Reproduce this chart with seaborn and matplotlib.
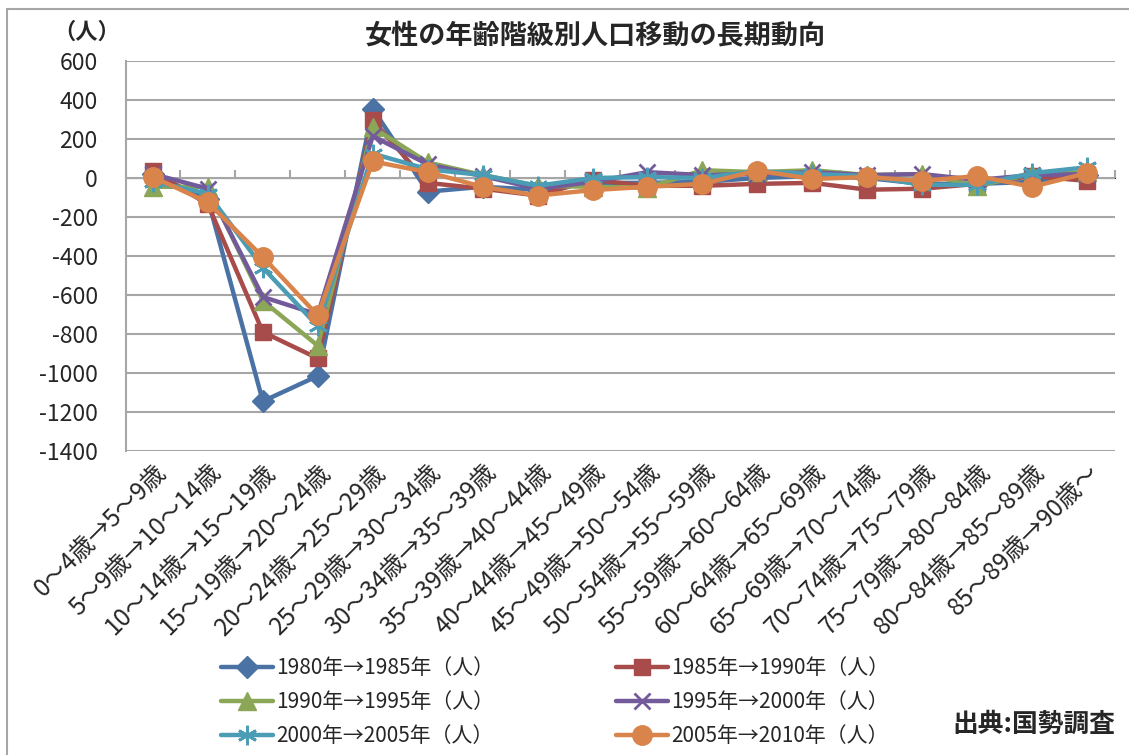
import numpy as np
import pandas as pd
import matplotlib
matplotlib.use("Agg")
import matplotlib.pyplot as plt
from matplotlib.patches import Rectangle
import seaborn as sns

sns.set_style("white")
plt.rcParams['font.family'] = ['Noto Sans CJK JP', 'DejaVu Sans']

categories = [
    "0～4歳→5～9歳", "5～9歳→10～14歳", "10～14歳→15～19歳", "15～19歳→20～24歳",
    "20～24歳→25～29歳", "25～29歳→30～34歳", "30～34歳→35～39歳", "35～39歳→40～44歳",
    "40～44歳→45～49歳", "45～49歳→50～54歳", "50～54歳→55～59歳", "55～59歳→60～64歳",
    "60～64歳→65～69歳", "65～69歳→70～74歳", "70～74歳→75～79歳", "75～79歳→80～84歳",
    "80～84歳→85～89歳", "85～89歳→90歳～",
]

s1980 = [20, -110, -1145, -1015, 355, -70, -45, -60, -25, -25, -20, 0, 10, 0, -30, -30, -20, 15]
s1985 = [35, -135, -790, -925, 295, -25, -55, -90, -10, -40, -40, -30, -25, -60, -55, -30, 10, -15]
s1990 = [-45, -45, -630, -860, 260, 80, 15, -40, -45, -50, 40, 30, 40, 15, 20, -40, 20, 30]
s1995 = [20, -55, -610, -700, 215, 70, 10, -55, -20, 30, 15, 20, 30, 15, 20, -10, 15, 20]
s2000 = [-20, -80, -460, -760, 125, 45, 15, -40, 0, 5, 0, 35, 20, 10, -35, -35, 25, 55]
s2005 = [5, -125, -405, -705, 85, 30, -45, -90, -62, -45, -30, 38, -5, 5, -15, 10, -45, 25]

series_labels = ["1980年→1985年（人）", "1985年→1990年（人）", "1990年→1995年（人）",
                 "1995年→2000年（人）", "2000年→2005年（人）", "2005年→2010年（人）"]
series_values = [s1980, s1985, s1990, s1995, s2000, s2005]
colors = ['#4A72A5', '#A84B4B', '#8AA656', '#735B9B', '#4B9CB5', '#D9844A']
markers = ['D', 's', '^', 'x', (6, 2, 0), 'o']
msizes = [11, 12, 13, 12, 14, 14]

yticks = [600, 400, 200, 0, -200, -400, -600, -800, -1000, -1200, -1400]

W, H = 1129, 755
fig = plt.figure(figsize=(W / 100, H / 100), dpi=100)
ax = fig.add_axes([125.5 / W, 1 - 451 / H, (1114.5 - 125.5) / W, (451 - 61) / H])

x = np.arange(len(categories))
handles = []
for lab, vals, c, m, ms in zip(series_labels, series_values, colors, markers, msizes):
    df = pd.DataFrame({"x": x, "y": vals})
    sns.lineplot(data=df, x="x", y="y", color=c, marker=m, markersize=ms,
                 markeredgecolor=c, markeredgewidth=2 if m in ('x', (6, 2, 0)) else 1,
                 linewidth=3.2, ax=ax, label=lab, legend=False)
    handles.append(ax.lines[-1])

ax.set_xlim(-0.5, len(categories) - 0.5)
ax.set_ylim(-1400, 600)
ax.set_yticks(yticks)
ax.set_yticklabels([str(v) for v in yticks], fontsize=16.5)
ax.grid(axis='y', color='#A6A6A6', linewidth=1.5)
ax.set_axisbelow(True)
for side in ['top', 'right', 'bottom']:
    ax.spines[side].set_visible(False)
ax.spines['left'].set_color('#A6A6A6')
ax.spines['left'].set_linewidth(1.5)
ax.tick_params(axis='y', length=0, pad=20)

ax.set_xticks(x)
ax.set_xticklabels(categories, rotation=45, ha='right', rotation_mode='anchor', fontsize=17.5)
ax.tick_params(axis='x', length=0, pad=6)
ax.set_xlabel("")
ax.set_ylabel("")

# category axis crossing at zero with boundary tick marks
sec = ax.secondary_xaxis(location=0.7)
sec.set_xticks(np.arange(len(categories) + 1) - 0.5)
sec.set_xticklabels([])
sec.tick_params(axis='x', direction='out', length=6, width=1.5, color='#A6A6A6')
sec.spines['bottom'].set_color('#A6A6A6')
sec.spines['bottom'].set_linewidth(1.5)

fig.text(595 / W, 1 - 36 / H, "女性の年齢階級別人口移動の長期動向", ha='center', va='center',
         fontsize=19.5, fontweight='bold')
fig.text(87 / W, 1 - 32 / H, "（人）", ha='center', va='center', fontsize=16, fontweight='bold')

order = [0, 2, 4, 1, 3, 5]
leg = fig.legend([handles[i] for i in order], [series_labels[i] for i in order],
                 loc='center', bbox_to_anchor=(555 / W, 1 - 702 / H), ncol=2,
                 frameon=False, fontsize=15, handlelength=2.5, columnspacing=5.85,
                 labelspacing=0.58, handletextpad=0.15)

fig.text(1115 / W, 1 - 724 / H, "出典:国勢調査", ha='right', va='center', fontsize=18.5,
         fontweight='bold')

fig.patches.append(Rectangle((7 / W, -0.01), 1.1, 1 - 9 / H + 0.01, transform=fig.transFigure,
                             fill=False, edgecolor='#A6A6A6', linewidth=1.5))

fig.savefig("out.png", dpi=100)
